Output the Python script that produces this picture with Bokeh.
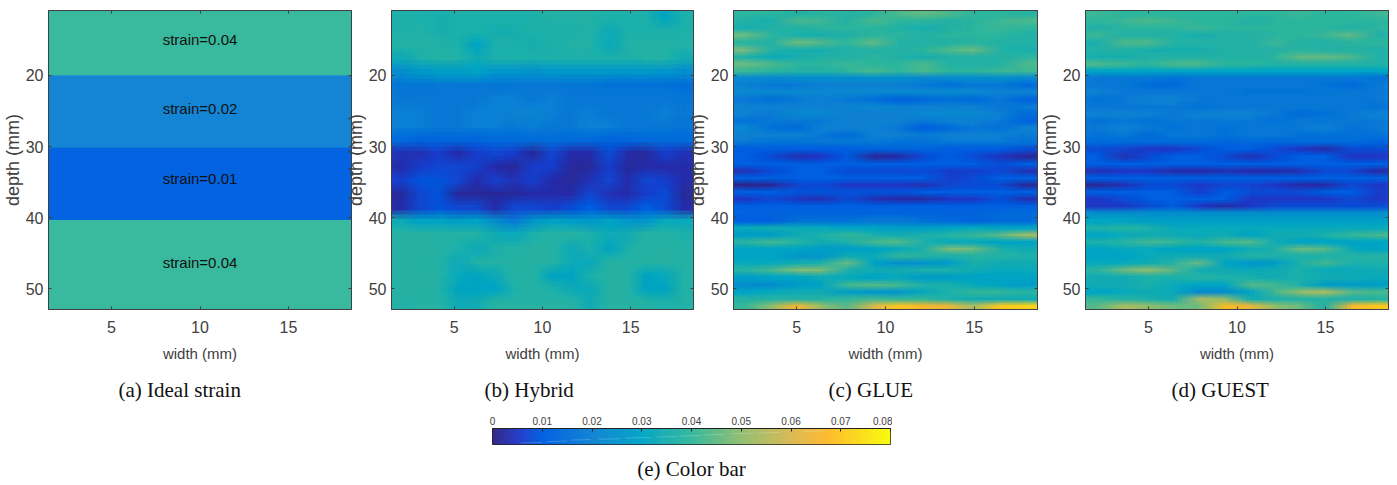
import numpy as np
from bokeh.core.properties import value
from bokeh.embed import file_html
from bokeh.layouts import column, row
from bokeh.models import (ColumnDataSource, FixedTicker, LinearAxis, LinearColorMapper,
                          Range1d, Title)
from bokeh.plotting import figure
from bokeh.resources import INLINE
from bokeh.transform import transform

# ---------- data (strain, in units of 0.001) ----------
X_LIM = (1.44, 18.56)
DEPTH_LIM = (10.85, 52.95)
X_TICKS = [5, 10, 15]
DEPTH_TICKS = [20, 30, 40, 50]
BAR_TICKS = [0, 0.01, 0.02, 0.03, 0.04, 0.05, 0.06, 0.07, 0.08]

ideal_top = [10.85, 20.0, 30.2, 40.4]
ideal_bottom = [20.0, 30.2, 40.4, 52.95]
ideal_strain = [0.04, 0.02, 0.01, 0.04]
ideal_text = ["strain=0.04", "strain=0.02", "strain=0.01", "strain=0.04"]
ideal_text_depth = [15.0, 24.6, 34.5, 46.4]

hybrid = [
    [36,36,35,36,36,36,36,36,37,37,37,36,36,36,31,36],
    [36,37,35,36,36,35,35,36,36,36,37,33,36,36,36,36],
    [37,37,37,36,30,36,36,35,36,37,37,32,37,37,37,37],
    [33,36,37,37,33,36,36,36,36,36,36,36,36,37,37,34],
    [24,27,28,28,30,26,26,25,26,27,27,27,26,27,26,24],
    [17,17,18,18,18,17,18,18,18,17,17,16,16,16,16,15],
    [18,18,18,18,18,19,19,18,19,18,18,18,18,18,18,17],
    [19,19,18,18,19,19,20,21,19,18,19,18,18,18,19,18],
    [19,19,18,18,19,19,18,19,18,18,20,19,18,18,18,17],
    [14,12,13,13,12,14,14,15,15,14,14,12,13,14,14,14],
    [4,4,6,3,6,7,6,2,7,3,3,8,3,2,6,4],
    [3,6,7,7,6,3,2,6,6,2,2,6,2,3,3,3],
    [6,9,9,7,3,6,4,6,3,2,4,7,3,7,6,3],
    [2,7,9,2,2,2,2,3,3,3,7,4,3,6,8,2],
    [3,7,9,7,7,3,7,7,6,8,11,7,7,11,8,3],
    [33,30,30,28,30,24,18,26,30,28,26,30,26,26,32,32],
    [38,38,38,37,37,34,32,36,38,38,36,33,34,38,38,36],
    [38,38,38,36,33,36,37,38,38,33,36,31,36,38,38,37],
    [38,38,37,33,37,37,38,38,38,33,32,38,38,38,38,37],
    [38,38,38,32,31,33,38,38,31,31,36,38,38,31,32,37],
    [38,38,37,31,30,30,36,38,36,33,32,38,38,31,31,37],
    [37,38,38,33,34,38,38,38,38,38,34,38,38,37,36,37],
]

glue = [
    [39,39,37,39,38,39,43,45,43,39,39,38],
    [37,35,43,41,37,43,39,39,37,39,41,43],
    [35,37,37,39,39,39,37,35,37,39,41,39],
    [46,39,35,35,37,39,39,37,39,39,39,37],
    [39,37,46,43,39,45,37,37,37,39,37,37],
    [47,37,35,35,37,37,37,39,43,46,37,35],
    [37,33,35,37,37,39,37,35,37,37,37,39],
    [46,43,39,39,41,39,39,43,37,37,37,43],
    [41,39,37,37,39,43,39,43,39,39,41,41],
    [22,22,24,24,24,24,24,22,22,24,24,22],
    [20,18,18,20,20,20,20,18,16,18,18,14],
    [22,22,22,22,22,22,22,22,22,22,20,20],
    [18,16,18,20,18,16,12,14,16,14,18,12],
    [20,20,20,20,20,22,20,20,20,20,18,18],
    [20,18,22,22,20,20,20,22,22,22,20,14],
    [16,18,18,18,20,20,20,18,20,20,18,12],
    [22,16,14,20,20,20,18,10,14,18,16,20],
    [20,20,20,18,14,20,20,18,20,20,20,18],
    [18,16,16,18,18,18,16,16,18,18,18,16],
    [10,10,10,10,10,12,12,12,10,10,10,8],
    [10,8,4,5,10,2,3,8,10,8,5,2],
    [10,10,10,10,10,10,10,10,10,10,8,10],
    [4,8,10,10,8,8,7,8,6,6,8,4],
    [10,10,10,10,10,10,10,10,6,8,10,10],
    [1,2,7,8,5,5,5,4,7,8,8,2],
    [10,10,9,9,9,9,9,10,10,10,10,10],
    [5,8,5,4,8,4,3,3,5,5,9,4],
    [10,10,10,10,10,10,10,10,10,10,10,10],
    [12,12,12,12,12,12,12,12,12,12,14,14],
    [10,10,16,16,16,18,18,16,14,12,14,14],
    [32,34,32,32,30,30,28,28,30,32,30,30],
    [28,28,34,36,40,36,34,36,38,40,44,52],
    [38,42,38,34,36,42,44,36,32,32,30,30],
    [30,30,30,28,28,30,32,36,48,46,36,34],
    [30,30,26,26,34,32,40,38,36,38,38,36],
    [32,32,34,36,46,30,24,26,28,36,34,34],
    [38,42,48,48,36,34,34,36,36,34,32,32],
    [28,30,30,34,32,30,32,28,28,30,30,30],
    [24,24,28,30,42,44,42,36,36,32,30,28],
    [30,32,34,34,28,26,26,32,36,40,40,38],
    [38,38,38,38,40,42,40,40,36,34,34,34],
    [40,50,66,50,44,60,70,66,64,52,70,72],
]

guest = [
    [41,39,39,39,39,39,39,39,41,39,39,41],
    [39,41,43,41,39,39,37,39,39,39,39,39],
    [37,39,39,39,41,39,39,39,39,39,37,39],
    [41,37,37,37,35,37,37,39,39,41,45,37],
    [35,43,43,37,37,37,37,41,37,37,39,39],
    [37,37,35,35,35,37,37,37,39,37,37,37],
    [35,35,37,37,37,37,37,39,45,45,43,37],
    [43,41,39,43,43,39,39,37,37,37,37,37],
    [30,30,30,30,30,30,30,30,30,30,30,30],
    [18,18,18,16,18,18,18,18,18,18,18,16],
    [18,18,14,14,18,18,18,18,18,16,14,18],
    [20,18,18,18,18,18,16,16,16,18,18,18],
    [16,18,20,20,18,18,18,18,18,18,18,18],
    [18,18,18,18,16,18,18,18,18,18,18,16],
    [20,20,20,18,20,20,20,18,14,16,18,20],
    [16,18,16,18,18,18,18,16,18,18,18,18],
    [18,20,18,16,18,16,18,18,18,20,16,18],
    [16,18,14,18,18,16,18,18,16,16,16,16],
    [14,14,14,14,14,12,14,12,14,14,14,12],
    [8,7,5,5,8,10,10,8,5,3,8,8],
    [10,4,8,10,10,8,4,8,10,10,5,5],
    [10,10,10,10,10,10,10,10,10,10,10,10],
    [4,5,5,3,3,4,3,3,4,8,7,3],
    [10,10,10,10,10,10,10,10,10,10,10,10],
    [2,4,8,8,5,7,7,5,3,3,8,5],
    [10,10,10,10,6,10,8,8,8,10,10,6],
    [5,8,10,10,10,10,5,5,5,5,8,5],
    [5,5,8,10,5,3,5,8,8,8,8,8],
    [24,24,24,24,24,24,24,24,24,24,24,24],
    [30,30,28,28,28,28,28,28,28,28,28,28],
    [36,38,36,32,32,32,32,32,32,32,32,32],
    [30,32,34,34,32,34,30,34,34,36,40,42],
    [36,38,42,40,36,42,44,34,30,30,30,30],
    [30,32,32,30,30,30,34,36,46,44,32,30],
    [30,30,32,34,34,34,38,36,36,36,38,38],
    [32,32,34,38,46,30,26,28,36,42,36,36],
    [38,46,50,44,34,34,32,34,36,32,32,34],
    [34,34,36,36,38,36,36,34,36,34,34,32],
    [34,34,36,32,30,30,44,42,36,28,28,28],
    [30,32,34,32,22,24,30,42,50,54,44,42],
    [40,38,36,34,54,50,34,36,38,38,36,38],
    [44,54,50,46,46,68,64,50,46,36,66,70],
]

# faint light streaks across the colour bar
streak_x0 = [0.0057, 0.011, 0.0157, 0.0214, 0.0267, 0.033, 0.0378, 0.0425, 0.048, 0.053, 0.0625]
streak_x1 = [0.0100, 0.015, 0.0197, 0.0257, 0.0317, 0.037, 0.0418, 0.0465, 0.0525, 0.0578, 0.0665]
streak_y0 = [0.09, 0.18, 0.27, 0.33, 0.40, 0.47, 0.53, 0.60, 0.67, 0.71, 0.80]
streak_y1 = [0.13, 0.22, 0.31, 0.36, 0.44, 0.49, 0.56, 0.62, 0.71, 0.76, 0.84]

# parula-like colour scale, anchors
anchor_strain = [0, 0.005, 0.01, 0.02, 0.03, 0.04, 0.05, 0.06, 0.067, 0.07, 0.08]
anchor_rgb = [(53,42,135),(38,62,200),(3,99,225),(20,133,212),(6,167,198),
              (56,185,158),(146,191,115),(217,186,86),(252,186,50),(252,200,40),(249,251,14)]

N = 256
grid = np.linspace(0, 0.08, N)
palette = ["#%02x%02x%02x" % tuple(int(round(np.interp(g, anchor_strain, [c[i] for c in anchor_rgb])))
                                    for i in range(3)) for g in grid]
mapper = LinearColorMapper(palette=palette, low=0, high=0.08)

INK = "#404040"
SANS = "Liberation Sans"
SERIF = "Liberation Serif"
LEFT = 50


def panel(caption, caption_offset, frame_w, margin_left):
    p = figure(frame_width=frame_w, frame_height=299, output_backend="svg", toolbar_location=None,
               x_range=Range1d(*X_LIM), y_range=Range1d(DEPTH_LIM[1], DEPTH_LIM[0]),
               min_border_left=LEFT, min_border_right=1, min_border_top=10, min_border_bottom=0,
               border_fill_color=None, margin=(0, 0, 0, margin_left))
    p.grid.visible = False
    p.outline_line_color = INK
    for ax, ticks, lab in ((p.xaxis[0], X_TICKS, "width (mm)"), (p.yaxis[0], DEPTH_TICKS, "depth (mm)")):
        ax.ticker = FixedTicker(ticks=ticks)
        ax.axis_label = lab
        ax.axis_label_text_font = SANS
        ax.axis_label_text_font_style = "normal"
        ax.axis_label_text_color = INK
        ax.major_label_text_font = SANS
        ax.major_label_text_color = INK
        ax.major_label_text_font_size = "16px"
        ax.major_tick_in = 3
        ax.major_tick_out = 0
        ax.minor_tick_in = 0
        ax.minor_tick_out = 0
        ax.major_tick_line_color = INK
        ax.axis_line_color = INK
    p.xaxis[0].axis_label_text_font_size = "15px"
    p.xaxis[0].major_label_standoff = 11
    p.xaxis[0].axis_label_standoff = 9
    p.yaxis[0].axis_label_text_font_size = "18px"
    p.yaxis[0].major_label_standoff = 5
    p.yaxis[0].axis_label_standoff = 0
    for side, ticks in (("above", X_TICKS), ("right", DEPTH_TICKS)):
        a = LinearAxis(ticker=FixedTicker(ticks=ticks), major_label_overrides={t: "" for t in ticks},
                       major_label_text_font_size="0px", major_label_standoff=0,
                       major_tick_in=3, major_tick_out=0, minor_tick_in=0, minor_tick_out=0,
                       major_tick_line_color=INK, axis_line_color=INK)
        p.add_layout(a, side)
    p.add_layout(Title(text=caption, align="left", offset=caption_offset, text_font=SERIF,
                       text_font_size="21px", text_font_style="normal", text_color="#111111",
                       standoff=23), "below")
    return p


def heat(caption, caption_offset, data, frame_w, margin_left, span_x=1.0, span_y=1.0, nx=7, ny=3):
    """Read values drawn as one image; the copies, shifted by less than a cell, soften the cell edges."""
    p = panel(caption, caption_offset, frame_w, margin_left)
    arr = np.array(data, dtype=float) / 1000
    cell_w = (X_LIM[1] - X_LIM[0]) / arr.shape[1]
    cell_h = (DEPTH_LIM[1] - DEPTH_LIM[0]) / arr.shape[0]
    shifts = sorted(((i / (nx - 1) - 0.5) * cell_w * span_x, (j / (ny - 1) - 0.5) * cell_h * span_y)
                    for i in range(nx) for j in range(ny))
    shifts.sort(key=lambda s: abs(s[0]) + abs(s[1]))
    for k, (dx, dy) in enumerate(shifts):
        p.image(image=[arr], x=X_LIM[0] + dx, y=DEPTH_LIM[0] + dy, dw=X_LIM[1] - X_LIM[0],
                dh=DEPTH_LIM[1] - DEPTH_LIM[0], color_mapper=mapper, global_alpha=1 / (k + 1))
    return p


pa = panel("(a) Ideal strain", 70, 303, -2)
src = ColumnDataSource(dict(top=ideal_top, bottom=ideal_bottom, strain=ideal_strain))
pa.quad(left=X_LIM[0], right=X_LIM[1], top="top", bottom="bottom", source=src,
        fill_color=transform("strain", mapper), line_color=transform("strain", mapper), line_width=0.5)
pa.text(x=[10] * 4, y=ideal_text_depth, text=ideal_text, text_align="center", text_baseline="middle",
        text_font=value(SANS), text_font_size="15px", text_color="#111111")

pb = heat("(b) Hybrid", 93, hybrid, 302, -11, span_x=0.9, span_y=0.6)
pc = heat("(c) GLUE", 95, glue, 304, -11, span_y=0.6)
pd = heat("(d) GUEST", 86, guest, 303, -3, span_y=0.6)

bar = figure(frame_width=398, frame_height=16, output_backend="svg", toolbar_location=None,
             x_range=Range1d(0, 0.08), y_range=Range1d(0, 1), min_border_left=492, min_border_right=2,
             min_border_top=0, min_border_bottom=0, x_axis_location="above", y_axis_location=None,
             margin=(0, 0, 0, 0))
bar.grid.visible = False
bar.outline_line_color = "#222222"
ramp = np.array([grid])
bar.image(image=[ramp], x=0, y=0, dw=0.08, dh=1, color_mapper=mapper)
bar.segment(x0=streak_x0, y0=streak_y0, x1=streak_x1, y1=streak_y1, line_color="white", line_alpha=0.2, line_width=1)
ax = bar.xaxis[0]
ax.ticker = FixedTicker(ticks=BAR_TICKS)
ax.major_label_overrides = {t: ("0" if t == 0 else f"{t:.2f}") for t in BAR_TICKS}
ax.major_label_text_font = SANS
ax.major_label_text_font_size = "10px"
ax.major_label_text_color = INK
ax.major_label_standoff = 4
ax.major_tick_in = 3
ax.major_tick_out = 0
ax.minor_tick_in = 0
ax.minor_tick_out = 0
ax.axis_line_color = "#222222"
ax.major_tick_line_color = "#222222"
bar.add_layout(Title(text="(e) Color bar", align="center", text_font=SERIF, text_font_size="21px",
                     text_font_style="normal", text_color="#111111", standoff=20), "below")

layout = column(row(pa, pb, pc, pd, spacing=0), bar, spacing=0)
open("out.html", "w").write(file_html(layout, INLINE))
